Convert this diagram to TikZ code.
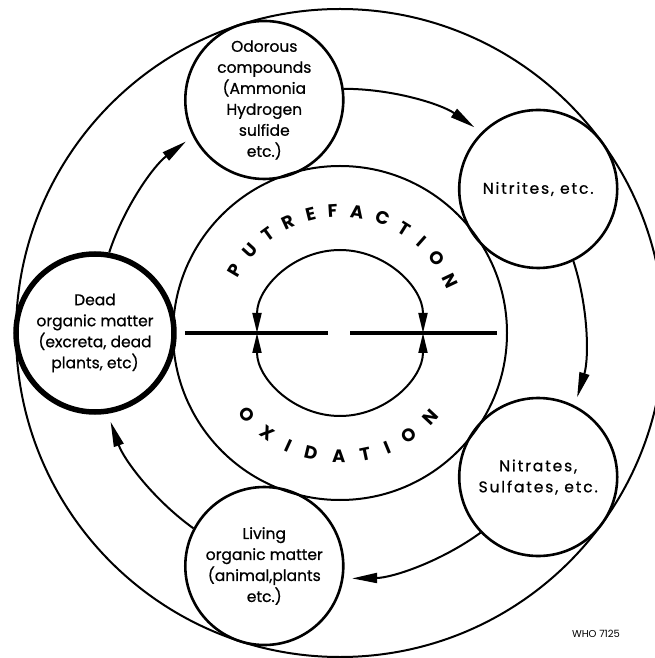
\documentclass[tikz,border=0pt]{standalone}
\usepackage{fontspec}
\setmainfont{Poppins}
\newfontfamily\stagefont{Poppins}[FakeBold=0.7]
\usetikzlibrary{arrows.meta,decorations.text}

\begin{document}
\begin{tikzpicture}[
            x=1pt, y=1pt,
            stage/.style={draw, circle, line width=2.6pt, minimum size=158pt, inner sep=-12pt,
                align=center, font=\stagefont\fontsize{15.5}{21}\selectfont},
            wide/.style={font=\stagefont\fontsize{15.5}{21}\selectfont\addfontfeature{LetterSpace=12}},
            ring/.style={line width=2pt},
            bar/.style={line width=4pt},
            flow/.style={line width=2pt, -{Triangle[length=25pt, width=10pt]},
                shorten >=8.5pt, bend left=17.5, looseness=0.87},
            turn/.style={line width=2pt, -{Triangle[length=20pt, width=9pt]}},
            word/.style={decorate, decoration={text along path, text align=fit to path,
                text={|\bfseries\fontsize{18}{18}\selectfont|#1}}}]
        \useasboundingbox (-340,-325) rectangle (315,333);
        \clip (-340,-325) rectangle (315,333);

        \coordinate (c) at (0,0);
        \draw [ring] (c) circle [radius=324];
        \draw [ring] (c) circle [radius=167];

        % the five stages round the cycle
        \node (dead) [stage, line width=5.5pt] at (180:245)
            {Dead\\organic matter\\(excreta, dead\\plants, etc)};
        \node (odor) [stage] at (108:245)
            {Odorous\\compounds\\(Ammonia\\Hydrogen\\sulfide\\etc.)};
        \node (nitrite) [stage, wide] at (36:245) {Nitrites, etc.};
        \node (nitrate) [stage, wide] at (-36:245) {Nitrates,\\Sulfates, etc.};
        \node (living) [stage] at (-108:245)
            {Living\\organic matter\\(animal,plants\\etc.)};

        \draw [flow] (dead.80.75) to (odor.207.25);
        \draw [flow] (odor.8.75) to (nitrite.135.25);
        \draw [flow] (nitrite.296.75) to (nitrate.63.25);
        \draw [flow] (nitrate.224.75) to (living.351.25);
        \draw [flow] (living.152.75) to (dead.279.25);

        % inner ring
        \path [word=PUTREFACTION] (152:116) arc [start angle=152, end angle=22, radius=116];
        \path [word=OXIDATION] (218:130) arc [start angle=218, end angle=320, radius=130];

        \draw [bar] (-155,0) -- (-12,0);
        \draw [bar] (10,0) -- (157,0);

        \draw [turn] (90:83) arc [start angle=90, end angle=180, radius=83];
        \draw [turn] (90:83) arc [start angle=90, end angle=0, radius=83];
        \draw [turn] (270:83) arc [start angle=270, end angle=180, radius=83];
        \draw [turn] (270:83) arc [start angle=270, end angle=360, radius=83];

        \node (who) [font=\fontsize{10}{10}\selectfont] at (256,-301) {WHO 7125};
    \end{tikzpicture}
\end{document}
